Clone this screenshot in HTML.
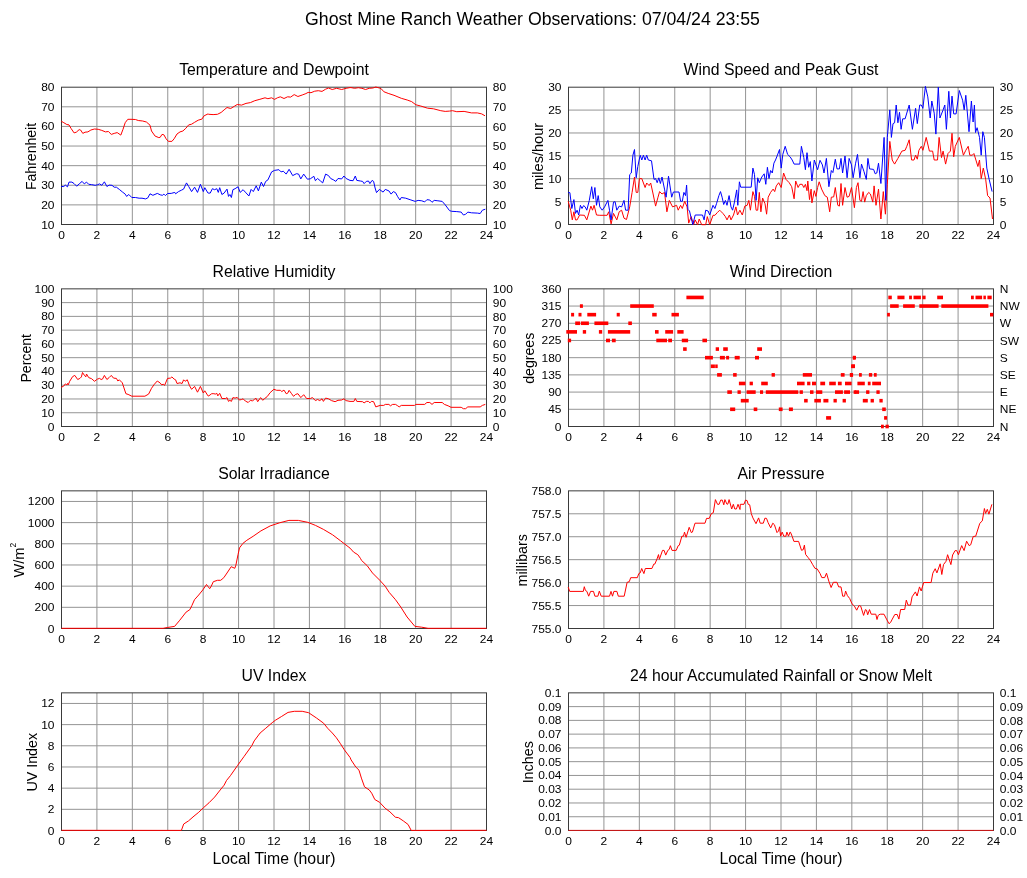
<!DOCTYPE html>
<html><head><meta charset="utf-8"><style>
html,body{margin:0;padding:0;background:#fff;width:1027px;height:878px;overflow:hidden}
svg{display:block;will-change:transform}
text{font-family:"Liberation Sans",sans-serif;fill:#000}
</style></head><body>
<svg width="1027" height="878" viewBox="0 0 1027 878">
<rect width="1027" height="878" fill="#fff"/>
<text x="532.50" y="25.00" font-size="17.7" text-anchor="middle">Ghost Mine Ranch Weather Observations: 07/04/24 23:55</text>
<line x1="96.92" y1="87.2" x2="96.92" y2="224.5" stroke="#949494"/>
<line x1="132.33" y1="87.2" x2="132.33" y2="224.5" stroke="#949494"/>
<line x1="167.75" y1="87.2" x2="167.75" y2="224.5" stroke="#949494"/>
<line x1="203.17" y1="87.2" x2="203.17" y2="224.5" stroke="#949494"/>
<line x1="238.58" y1="87.2" x2="238.58" y2="224.5" stroke="#949494"/>
<line x1="274.00" y1="87.2" x2="274.00" y2="224.5" stroke="#949494"/>
<line x1="309.42" y1="87.2" x2="309.42" y2="224.5" stroke="#949494"/>
<line x1="344.83" y1="87.2" x2="344.83" y2="224.5" stroke="#949494"/>
<line x1="380.25" y1="87.2" x2="380.25" y2="224.5" stroke="#949494"/>
<line x1="415.67" y1="87.2" x2="415.67" y2="224.5" stroke="#949494"/>
<line x1="451.08" y1="87.2" x2="451.08" y2="224.5" stroke="#949494"/>
<line x1="61.5" y1="204.89" x2="486.5" y2="204.89" stroke="#949494"/>
<line x1="61.5" y1="185.27" x2="486.5" y2="185.27" stroke="#949494"/>
<line x1="61.5" y1="165.66" x2="486.5" y2="165.66" stroke="#949494"/>
<line x1="61.5" y1="146.04" x2="486.5" y2="146.04" stroke="#949494"/>
<line x1="61.5" y1="126.43" x2="486.5" y2="126.43" stroke="#949494"/>
<line x1="61.5" y1="106.81" x2="486.5" y2="106.81" stroke="#949494"/>
<rect x="61.5" y="87.2" width="425" height="137.30" fill="none" stroke="#3a3a3a"/>
<text transform="translate(54.50,228.50) scale(1.09,1)" font-size="11.0" text-anchor="end">10</text>
<text transform="translate(54.50,208.89) scale(1.09,1)" font-size="11.0" text-anchor="end">20</text>
<text transform="translate(54.50,189.27) scale(1.09,1)" font-size="11.0" text-anchor="end">30</text>
<text transform="translate(54.50,169.66) scale(1.09,1)" font-size="11.0" text-anchor="end">40</text>
<text transform="translate(54.50,150.04) scale(1.09,1)" font-size="11.0" text-anchor="end">50</text>
<text transform="translate(54.50,130.43) scale(1.09,1)" font-size="11.0" text-anchor="end">60</text>
<text transform="translate(54.50,110.81) scale(1.09,1)" font-size="11.0" text-anchor="end">70</text>
<text transform="translate(54.50,91.20) scale(1.09,1)" font-size="11.0" text-anchor="end">80</text>
<text transform="translate(492.80,228.70) scale(1.09,1)" font-size="11.0" text-anchor="start">10</text>
<text transform="translate(492.80,209.09) scale(1.09,1)" font-size="11.0" text-anchor="start">20</text>
<text transform="translate(492.80,189.47) scale(1.09,1)" font-size="11.0" text-anchor="start">30</text>
<text transform="translate(492.80,169.86) scale(1.09,1)" font-size="11.0" text-anchor="start">40</text>
<text transform="translate(492.80,150.24) scale(1.09,1)" font-size="11.0" text-anchor="start">50</text>
<text transform="translate(492.80,130.63) scale(1.09,1)" font-size="11.0" text-anchor="start">60</text>
<text transform="translate(492.80,111.01) scale(1.09,1)" font-size="11.0" text-anchor="start">70</text>
<text transform="translate(492.80,91.40) scale(1.09,1)" font-size="11.0" text-anchor="start">80</text>
<text transform="translate(61.50,239.10) scale(1.09,1)" font-size="11.0" text-anchor="middle">0</text>
<text transform="translate(96.92,239.10) scale(1.09,1)" font-size="11.0" text-anchor="middle">2</text>
<text transform="translate(132.33,239.10) scale(1.09,1)" font-size="11.0" text-anchor="middle">4</text>
<text transform="translate(167.75,239.10) scale(1.09,1)" font-size="11.0" text-anchor="middle">6</text>
<text transform="translate(203.17,239.10) scale(1.09,1)" font-size="11.0" text-anchor="middle">8</text>
<text transform="translate(238.58,239.10) scale(1.09,1)" font-size="11.0" text-anchor="middle">10</text>
<text transform="translate(274.00,239.10) scale(1.09,1)" font-size="11.0" text-anchor="middle">12</text>
<text transform="translate(309.42,239.10) scale(1.09,1)" font-size="11.0" text-anchor="middle">14</text>
<text transform="translate(344.83,239.10) scale(1.09,1)" font-size="11.0" text-anchor="middle">16</text>
<text transform="translate(380.25,239.10) scale(1.09,1)" font-size="11.0" text-anchor="middle">18</text>
<text transform="translate(415.67,239.10) scale(1.09,1)" font-size="11.0" text-anchor="middle">20</text>
<text transform="translate(451.08,239.10) scale(1.09,1)" font-size="11.0" text-anchor="middle">22</text>
<text transform="translate(486.50,239.10) scale(1.09,1)" font-size="11.0" text-anchor="middle">24</text>
<text transform="translate(274.00,75.20) scale(1.0,1)" font-size="15.8" text-anchor="middle">Temperature and Dewpoint</text>
<text transform="translate(36.30,156.45) rotate(-90)" font-size="14.8" text-anchor="middle" textLength="67.2" lengthAdjust="spacingAndGlyphs">Fahrenheit</text>
<line x1="603.92" y1="87.2" x2="603.92" y2="224.5" stroke="#949494"/>
<line x1="639.33" y1="87.2" x2="639.33" y2="224.5" stroke="#949494"/>
<line x1="674.75" y1="87.2" x2="674.75" y2="224.5" stroke="#949494"/>
<line x1="710.17" y1="87.2" x2="710.17" y2="224.5" stroke="#949494"/>
<line x1="745.58" y1="87.2" x2="745.58" y2="224.5" stroke="#949494"/>
<line x1="781.00" y1="87.2" x2="781.00" y2="224.5" stroke="#949494"/>
<line x1="816.42" y1="87.2" x2="816.42" y2="224.5" stroke="#949494"/>
<line x1="851.83" y1="87.2" x2="851.83" y2="224.5" stroke="#949494"/>
<line x1="887.25" y1="87.2" x2="887.25" y2="224.5" stroke="#949494"/>
<line x1="922.67" y1="87.2" x2="922.67" y2="224.5" stroke="#949494"/>
<line x1="958.08" y1="87.2" x2="958.08" y2="224.5" stroke="#949494"/>
<line x1="568.5" y1="201.62" x2="993.5" y2="201.62" stroke="#949494"/>
<line x1="568.5" y1="178.73" x2="993.5" y2="178.73" stroke="#949494"/>
<line x1="568.5" y1="155.85" x2="993.5" y2="155.85" stroke="#949494"/>
<line x1="568.5" y1="132.97" x2="993.5" y2="132.97" stroke="#949494"/>
<line x1="568.5" y1="110.08" x2="993.5" y2="110.08" stroke="#949494"/>
<rect x="568.5" y="87.2" width="425" height="137.30" fill="none" stroke="#3a3a3a"/>
<text transform="translate(561.50,228.50) scale(1.09,1)" font-size="11.0" text-anchor="end">0</text>
<text transform="translate(561.50,205.62) scale(1.09,1)" font-size="11.0" text-anchor="end">5</text>
<text transform="translate(561.50,182.73) scale(1.09,1)" font-size="11.0" text-anchor="end">10</text>
<text transform="translate(561.50,159.85) scale(1.09,1)" font-size="11.0" text-anchor="end">15</text>
<text transform="translate(561.50,136.97) scale(1.09,1)" font-size="11.0" text-anchor="end">20</text>
<text transform="translate(561.50,114.08) scale(1.09,1)" font-size="11.0" text-anchor="end">25</text>
<text transform="translate(561.50,91.20) scale(1.09,1)" font-size="11.0" text-anchor="end">30</text>
<text transform="translate(999.80,228.70) scale(1.09,1)" font-size="11.0" text-anchor="start">0</text>
<text transform="translate(999.80,205.82) scale(1.09,1)" font-size="11.0" text-anchor="start">5</text>
<text transform="translate(999.80,182.93) scale(1.09,1)" font-size="11.0" text-anchor="start">10</text>
<text transform="translate(999.80,160.05) scale(1.09,1)" font-size="11.0" text-anchor="start">15</text>
<text transform="translate(999.80,137.17) scale(1.09,1)" font-size="11.0" text-anchor="start">20</text>
<text transform="translate(999.80,114.28) scale(1.09,1)" font-size="11.0" text-anchor="start">25</text>
<text transform="translate(999.80,91.40) scale(1.09,1)" font-size="11.0" text-anchor="start">30</text>
<text transform="translate(568.50,239.10) scale(1.09,1)" font-size="11.0" text-anchor="middle">0</text>
<text transform="translate(603.92,239.10) scale(1.09,1)" font-size="11.0" text-anchor="middle">2</text>
<text transform="translate(639.33,239.10) scale(1.09,1)" font-size="11.0" text-anchor="middle">4</text>
<text transform="translate(674.75,239.10) scale(1.09,1)" font-size="11.0" text-anchor="middle">6</text>
<text transform="translate(710.17,239.10) scale(1.09,1)" font-size="11.0" text-anchor="middle">8</text>
<text transform="translate(745.58,239.10) scale(1.09,1)" font-size="11.0" text-anchor="middle">10</text>
<text transform="translate(781.00,239.10) scale(1.09,1)" font-size="11.0" text-anchor="middle">12</text>
<text transform="translate(816.42,239.10) scale(1.09,1)" font-size="11.0" text-anchor="middle">14</text>
<text transform="translate(851.83,239.10) scale(1.09,1)" font-size="11.0" text-anchor="middle">16</text>
<text transform="translate(887.25,239.10) scale(1.09,1)" font-size="11.0" text-anchor="middle">18</text>
<text transform="translate(922.67,239.10) scale(1.09,1)" font-size="11.0" text-anchor="middle">20</text>
<text transform="translate(958.08,239.10) scale(1.09,1)" font-size="11.0" text-anchor="middle">22</text>
<text transform="translate(993.50,239.10) scale(1.09,1)" font-size="11.0" text-anchor="middle">24</text>
<text transform="translate(781.00,75.20) scale(1.0,1)" font-size="15.8" text-anchor="middle">Wind Speed and Peak Gust</text>
<text transform="translate(543.00,156.45) rotate(-90)" font-size="14.8" text-anchor="middle" textLength="67.2" lengthAdjust="spacingAndGlyphs">miles/hour</text>
<line x1="96.92" y1="288.85" x2="96.92" y2="426.5" stroke="#949494"/>
<line x1="132.33" y1="288.85" x2="132.33" y2="426.5" stroke="#949494"/>
<line x1="167.75" y1="288.85" x2="167.75" y2="426.5" stroke="#949494"/>
<line x1="203.17" y1="288.85" x2="203.17" y2="426.5" stroke="#949494"/>
<line x1="238.58" y1="288.85" x2="238.58" y2="426.5" stroke="#949494"/>
<line x1="274.00" y1="288.85" x2="274.00" y2="426.5" stroke="#949494"/>
<line x1="309.42" y1="288.85" x2="309.42" y2="426.5" stroke="#949494"/>
<line x1="344.83" y1="288.85" x2="344.83" y2="426.5" stroke="#949494"/>
<line x1="380.25" y1="288.85" x2="380.25" y2="426.5" stroke="#949494"/>
<line x1="415.67" y1="288.85" x2="415.67" y2="426.5" stroke="#949494"/>
<line x1="451.08" y1="288.85" x2="451.08" y2="426.5" stroke="#949494"/>
<line x1="61.5" y1="412.74" x2="486.5" y2="412.74" stroke="#949494"/>
<line x1="61.5" y1="398.97" x2="486.5" y2="398.97" stroke="#949494"/>
<line x1="61.5" y1="385.20" x2="486.5" y2="385.20" stroke="#949494"/>
<line x1="61.5" y1="371.44" x2="486.5" y2="371.44" stroke="#949494"/>
<line x1="61.5" y1="357.68" x2="486.5" y2="357.68" stroke="#949494"/>
<line x1="61.5" y1="343.91" x2="486.5" y2="343.91" stroke="#949494"/>
<line x1="61.5" y1="330.15" x2="486.5" y2="330.15" stroke="#949494"/>
<line x1="61.5" y1="316.38" x2="486.5" y2="316.38" stroke="#949494"/>
<line x1="61.5" y1="302.62" x2="486.5" y2="302.62" stroke="#949494"/>
<rect x="61.5" y="288.85" width="425" height="137.65" fill="none" stroke="#3a3a3a"/>
<text transform="translate(54.50,430.50) scale(1.09,1)" font-size="11.0" text-anchor="end">0</text>
<text transform="translate(54.50,416.74) scale(1.09,1)" font-size="11.0" text-anchor="end">10</text>
<text transform="translate(54.50,402.97) scale(1.09,1)" font-size="11.0" text-anchor="end">20</text>
<text transform="translate(54.50,389.20) scale(1.09,1)" font-size="11.0" text-anchor="end">30</text>
<text transform="translate(54.50,375.44) scale(1.09,1)" font-size="11.0" text-anchor="end">40</text>
<text transform="translate(54.50,361.68) scale(1.09,1)" font-size="11.0" text-anchor="end">50</text>
<text transform="translate(54.50,347.91) scale(1.09,1)" font-size="11.0" text-anchor="end">60</text>
<text transform="translate(54.50,334.15) scale(1.09,1)" font-size="11.0" text-anchor="end">70</text>
<text transform="translate(54.50,320.38) scale(1.09,1)" font-size="11.0" text-anchor="end">80</text>
<text transform="translate(54.50,306.62) scale(1.09,1)" font-size="11.0" text-anchor="end">90</text>
<text transform="translate(54.50,292.85) scale(1.09,1)" font-size="11.0" text-anchor="end">100</text>
<text transform="translate(492.80,430.70) scale(1.09,1)" font-size="11.0" text-anchor="start">0</text>
<text transform="translate(492.80,416.94) scale(1.09,1)" font-size="11.0" text-anchor="start">10</text>
<text transform="translate(492.80,403.17) scale(1.09,1)" font-size="11.0" text-anchor="start">20</text>
<text transform="translate(492.80,389.40) scale(1.09,1)" font-size="11.0" text-anchor="start">30</text>
<text transform="translate(492.80,375.64) scale(1.09,1)" font-size="11.0" text-anchor="start">40</text>
<text transform="translate(492.80,361.88) scale(1.09,1)" font-size="11.0" text-anchor="start">50</text>
<text transform="translate(492.80,348.11) scale(1.09,1)" font-size="11.0" text-anchor="start">60</text>
<text transform="translate(492.80,334.35) scale(1.09,1)" font-size="11.0" text-anchor="start">70</text>
<text transform="translate(492.80,320.58) scale(1.09,1)" font-size="11.0" text-anchor="start">80</text>
<text transform="translate(492.80,306.81) scale(1.09,1)" font-size="11.0" text-anchor="start">90</text>
<text transform="translate(492.80,293.05) scale(1.09,1)" font-size="11.0" text-anchor="start">100</text>
<text transform="translate(61.50,441.10) scale(1.09,1)" font-size="11.0" text-anchor="middle">0</text>
<text transform="translate(96.92,441.10) scale(1.09,1)" font-size="11.0" text-anchor="middle">2</text>
<text transform="translate(132.33,441.10) scale(1.09,1)" font-size="11.0" text-anchor="middle">4</text>
<text transform="translate(167.75,441.10) scale(1.09,1)" font-size="11.0" text-anchor="middle">6</text>
<text transform="translate(203.17,441.10) scale(1.09,1)" font-size="11.0" text-anchor="middle">8</text>
<text transform="translate(238.58,441.10) scale(1.09,1)" font-size="11.0" text-anchor="middle">10</text>
<text transform="translate(274.00,441.10) scale(1.09,1)" font-size="11.0" text-anchor="middle">12</text>
<text transform="translate(309.42,441.10) scale(1.09,1)" font-size="11.0" text-anchor="middle">14</text>
<text transform="translate(344.83,441.10) scale(1.09,1)" font-size="11.0" text-anchor="middle">16</text>
<text transform="translate(380.25,441.10) scale(1.09,1)" font-size="11.0" text-anchor="middle">18</text>
<text transform="translate(415.67,441.10) scale(1.09,1)" font-size="11.0" text-anchor="middle">20</text>
<text transform="translate(451.08,441.10) scale(1.09,1)" font-size="11.0" text-anchor="middle">22</text>
<text transform="translate(486.50,441.10) scale(1.09,1)" font-size="11.0" text-anchor="middle">24</text>
<text transform="translate(274.00,276.85) scale(1.0,1)" font-size="15.8" text-anchor="middle">Relative Humidity</text>
<text transform="translate(31.10,358.28) rotate(-90)" font-size="14.8" text-anchor="middle" textLength="48.6" lengthAdjust="spacingAndGlyphs">Percent</text>
<line x1="603.92" y1="288.85" x2="603.92" y2="426.5" stroke="#949494"/>
<line x1="639.33" y1="288.85" x2="639.33" y2="426.5" stroke="#949494"/>
<line x1="674.75" y1="288.85" x2="674.75" y2="426.5" stroke="#949494"/>
<line x1="710.17" y1="288.85" x2="710.17" y2="426.5" stroke="#949494"/>
<line x1="745.58" y1="288.85" x2="745.58" y2="426.5" stroke="#949494"/>
<line x1="781.00" y1="288.85" x2="781.00" y2="426.5" stroke="#949494"/>
<line x1="816.42" y1="288.85" x2="816.42" y2="426.5" stroke="#949494"/>
<line x1="851.83" y1="288.85" x2="851.83" y2="426.5" stroke="#949494"/>
<line x1="887.25" y1="288.85" x2="887.25" y2="426.5" stroke="#949494"/>
<line x1="922.67" y1="288.85" x2="922.67" y2="426.5" stroke="#949494"/>
<line x1="958.08" y1="288.85" x2="958.08" y2="426.5" stroke="#949494"/>
<line x1="568.5" y1="409.29" x2="993.5" y2="409.29" stroke="#949494"/>
<line x1="568.5" y1="392.09" x2="993.5" y2="392.09" stroke="#949494"/>
<line x1="568.5" y1="374.88" x2="993.5" y2="374.88" stroke="#949494"/>
<line x1="568.5" y1="357.68" x2="993.5" y2="357.68" stroke="#949494"/>
<line x1="568.5" y1="340.47" x2="993.5" y2="340.47" stroke="#949494"/>
<line x1="568.5" y1="323.26" x2="993.5" y2="323.26" stroke="#949494"/>
<line x1="568.5" y1="306.06" x2="993.5" y2="306.06" stroke="#949494"/>
<rect x="568.5" y="288.85" width="425" height="137.65" fill="none" stroke="#3a3a3a"/>
<text transform="translate(561.50,430.50) scale(1.09,1)" font-size="11.0" text-anchor="end">0</text>
<text transform="translate(561.50,413.29) scale(1.09,1)" font-size="11.0" text-anchor="end">45</text>
<text transform="translate(561.50,396.09) scale(1.09,1)" font-size="11.0" text-anchor="end">90</text>
<text transform="translate(561.50,378.88) scale(1.09,1)" font-size="11.0" text-anchor="end">135</text>
<text transform="translate(561.50,361.68) scale(1.09,1)" font-size="11.0" text-anchor="end">180</text>
<text transform="translate(561.50,344.47) scale(1.09,1)" font-size="11.0" text-anchor="end">225</text>
<text transform="translate(561.50,327.26) scale(1.09,1)" font-size="11.0" text-anchor="end">270</text>
<text transform="translate(561.50,310.06) scale(1.09,1)" font-size="11.0" text-anchor="end">315</text>
<text transform="translate(561.50,292.85) scale(1.09,1)" font-size="11.0" text-anchor="end">360</text>
<text transform="translate(999.80,430.70) scale(1.09,1)" font-size="11.0" text-anchor="start">N</text>
<text transform="translate(999.80,413.49) scale(1.09,1)" font-size="11.0" text-anchor="start">NE</text>
<text transform="translate(999.80,396.29) scale(1.09,1)" font-size="11.0" text-anchor="start">E</text>
<text transform="translate(999.80,379.08) scale(1.09,1)" font-size="11.0" text-anchor="start">SE</text>
<text transform="translate(999.80,361.88) scale(1.09,1)" font-size="11.0" text-anchor="start">S</text>
<text transform="translate(999.80,344.67) scale(1.09,1)" font-size="11.0" text-anchor="start">SW</text>
<text transform="translate(999.80,327.46) scale(1.09,1)" font-size="11.0" text-anchor="start">W</text>
<text transform="translate(999.80,310.26) scale(1.09,1)" font-size="11.0" text-anchor="start">NW</text>
<text transform="translate(999.80,293.05) scale(1.09,1)" font-size="11.0" text-anchor="start">N</text>
<text transform="translate(568.50,441.10) scale(1.09,1)" font-size="11.0" text-anchor="middle">0</text>
<text transform="translate(603.92,441.10) scale(1.09,1)" font-size="11.0" text-anchor="middle">2</text>
<text transform="translate(639.33,441.10) scale(1.09,1)" font-size="11.0" text-anchor="middle">4</text>
<text transform="translate(674.75,441.10) scale(1.09,1)" font-size="11.0" text-anchor="middle">6</text>
<text transform="translate(710.17,441.10) scale(1.09,1)" font-size="11.0" text-anchor="middle">8</text>
<text transform="translate(745.58,441.10) scale(1.09,1)" font-size="11.0" text-anchor="middle">10</text>
<text transform="translate(781.00,441.10) scale(1.09,1)" font-size="11.0" text-anchor="middle">12</text>
<text transform="translate(816.42,441.10) scale(1.09,1)" font-size="11.0" text-anchor="middle">14</text>
<text transform="translate(851.83,441.10) scale(1.09,1)" font-size="11.0" text-anchor="middle">16</text>
<text transform="translate(887.25,441.10) scale(1.09,1)" font-size="11.0" text-anchor="middle">18</text>
<text transform="translate(922.67,441.10) scale(1.09,1)" font-size="11.0" text-anchor="middle">20</text>
<text transform="translate(958.08,441.10) scale(1.09,1)" font-size="11.0" text-anchor="middle">22</text>
<text transform="translate(993.50,441.10) scale(1.09,1)" font-size="11.0" text-anchor="middle">24</text>
<text transform="translate(781.00,276.85) scale(1.0,1)" font-size="15.8" text-anchor="middle">Wind Direction</text>
<text transform="translate(534.00,358.28) rotate(-90)" font-size="14.8" text-anchor="middle" textLength="51.2" lengthAdjust="spacingAndGlyphs">degrees</text>
<line x1="96.92" y1="490.85" x2="96.92" y2="628.5" stroke="#949494"/>
<line x1="132.33" y1="490.85" x2="132.33" y2="628.5" stroke="#949494"/>
<line x1="167.75" y1="490.85" x2="167.75" y2="628.5" stroke="#949494"/>
<line x1="203.17" y1="490.85" x2="203.17" y2="628.5" stroke="#949494"/>
<line x1="238.58" y1="490.85" x2="238.58" y2="628.5" stroke="#949494"/>
<line x1="274.00" y1="490.85" x2="274.00" y2="628.5" stroke="#949494"/>
<line x1="309.42" y1="490.85" x2="309.42" y2="628.5" stroke="#949494"/>
<line x1="344.83" y1="490.85" x2="344.83" y2="628.5" stroke="#949494"/>
<line x1="380.25" y1="490.85" x2="380.25" y2="628.5" stroke="#949494"/>
<line x1="415.67" y1="490.85" x2="415.67" y2="628.5" stroke="#949494"/>
<line x1="451.08" y1="490.85" x2="451.08" y2="628.5" stroke="#949494"/>
<line x1="61.5" y1="607.32" x2="486.5" y2="607.32" stroke="#949494"/>
<line x1="61.5" y1="586.15" x2="486.5" y2="586.15" stroke="#949494"/>
<line x1="61.5" y1="564.97" x2="486.5" y2="564.97" stroke="#949494"/>
<line x1="61.5" y1="543.79" x2="486.5" y2="543.79" stroke="#949494"/>
<line x1="61.5" y1="522.62" x2="486.5" y2="522.62" stroke="#949494"/>
<line x1="61.5" y1="501.44" x2="486.5" y2="501.44" stroke="#949494"/>
<rect x="61.5" y="490.85" width="425" height="137.65" fill="none" stroke="#3a3a3a"/>
<text transform="translate(54.50,632.50) scale(1.09,1)" font-size="11.0" text-anchor="end">0</text>
<text transform="translate(54.50,611.32) scale(1.09,1)" font-size="11.0" text-anchor="end">200</text>
<text transform="translate(54.50,590.15) scale(1.09,1)" font-size="11.0" text-anchor="end">400</text>
<text transform="translate(54.50,568.97) scale(1.09,1)" font-size="11.0" text-anchor="end">600</text>
<text transform="translate(54.50,547.79) scale(1.09,1)" font-size="11.0" text-anchor="end">800</text>
<text transform="translate(54.50,526.62) scale(1.09,1)" font-size="11.0" text-anchor="end">1000</text>
<text transform="translate(54.50,505.44) scale(1.09,1)" font-size="11.0" text-anchor="end">1200</text>
<text transform="translate(61.50,643.10) scale(1.09,1)" font-size="11.0" text-anchor="middle">0</text>
<text transform="translate(96.92,643.10) scale(1.09,1)" font-size="11.0" text-anchor="middle">2</text>
<text transform="translate(132.33,643.10) scale(1.09,1)" font-size="11.0" text-anchor="middle">4</text>
<text transform="translate(167.75,643.10) scale(1.09,1)" font-size="11.0" text-anchor="middle">6</text>
<text transform="translate(203.17,643.10) scale(1.09,1)" font-size="11.0" text-anchor="middle">8</text>
<text transform="translate(238.58,643.10) scale(1.09,1)" font-size="11.0" text-anchor="middle">10</text>
<text transform="translate(274.00,643.10) scale(1.09,1)" font-size="11.0" text-anchor="middle">12</text>
<text transform="translate(309.42,643.10) scale(1.09,1)" font-size="11.0" text-anchor="middle">14</text>
<text transform="translate(344.83,643.10) scale(1.09,1)" font-size="11.0" text-anchor="middle">16</text>
<text transform="translate(380.25,643.10) scale(1.09,1)" font-size="11.0" text-anchor="middle">18</text>
<text transform="translate(415.67,643.10) scale(1.09,1)" font-size="11.0" text-anchor="middle">20</text>
<text transform="translate(451.08,643.10) scale(1.09,1)" font-size="11.0" text-anchor="middle">22</text>
<text transform="translate(486.50,643.10) scale(1.09,1)" font-size="11.0" text-anchor="middle">24</text>
<text transform="translate(274.00,478.85) scale(1.0,1)" font-size="15.8" text-anchor="middle">Solar Irradiance</text>
<text transform="translate(24.00,560.27) rotate(-90)" font-size="14.8" text-anchor="middle" textLength="34.7" lengthAdjust="spacingAndGlyphs">W/m<tspan font-size="8.5" dy="-8.3">2</tspan></text>
<line x1="603.92" y1="490.85" x2="603.92" y2="628.5" stroke="#949494"/>
<line x1="639.33" y1="490.85" x2="639.33" y2="628.5" stroke="#949494"/>
<line x1="674.75" y1="490.85" x2="674.75" y2="628.5" stroke="#949494"/>
<line x1="710.17" y1="490.85" x2="710.17" y2="628.5" stroke="#949494"/>
<line x1="745.58" y1="490.85" x2="745.58" y2="628.5" stroke="#949494"/>
<line x1="781.00" y1="490.85" x2="781.00" y2="628.5" stroke="#949494"/>
<line x1="816.42" y1="490.85" x2="816.42" y2="628.5" stroke="#949494"/>
<line x1="851.83" y1="490.85" x2="851.83" y2="628.5" stroke="#949494"/>
<line x1="887.25" y1="490.85" x2="887.25" y2="628.5" stroke="#949494"/>
<line x1="922.67" y1="490.85" x2="922.67" y2="628.5" stroke="#949494"/>
<line x1="958.08" y1="490.85" x2="958.08" y2="628.5" stroke="#949494"/>
<line x1="568.5" y1="605.56" x2="993.5" y2="605.56" stroke="#949494"/>
<line x1="568.5" y1="582.62" x2="993.5" y2="582.62" stroke="#949494"/>
<line x1="568.5" y1="559.67" x2="993.5" y2="559.67" stroke="#949494"/>
<line x1="568.5" y1="536.73" x2="993.5" y2="536.73" stroke="#949494"/>
<line x1="568.5" y1="513.79" x2="993.5" y2="513.79" stroke="#949494"/>
<rect x="568.5" y="490.85" width="425" height="137.65" fill="none" stroke="#3a3a3a"/>
<text transform="translate(561.50,632.50) scale(1.09,1)" font-size="11.0" text-anchor="end">755.0</text>
<text transform="translate(561.50,609.56) scale(1.09,1)" font-size="11.0" text-anchor="end">755.5</text>
<text transform="translate(561.50,586.62) scale(1.09,1)" font-size="11.0" text-anchor="end">756.0</text>
<text transform="translate(561.50,563.67) scale(1.09,1)" font-size="11.0" text-anchor="end">756.5</text>
<text transform="translate(561.50,540.73) scale(1.09,1)" font-size="11.0" text-anchor="end">757.0</text>
<text transform="translate(561.50,517.79) scale(1.09,1)" font-size="11.0" text-anchor="end">757.5</text>
<text transform="translate(561.50,494.85) scale(1.09,1)" font-size="11.0" text-anchor="end">758.0</text>
<text transform="translate(568.50,643.10) scale(1.09,1)" font-size="11.0" text-anchor="middle">0</text>
<text transform="translate(603.92,643.10) scale(1.09,1)" font-size="11.0" text-anchor="middle">2</text>
<text transform="translate(639.33,643.10) scale(1.09,1)" font-size="11.0" text-anchor="middle">4</text>
<text transform="translate(674.75,643.10) scale(1.09,1)" font-size="11.0" text-anchor="middle">6</text>
<text transform="translate(710.17,643.10) scale(1.09,1)" font-size="11.0" text-anchor="middle">8</text>
<text transform="translate(745.58,643.10) scale(1.09,1)" font-size="11.0" text-anchor="middle">10</text>
<text transform="translate(781.00,643.10) scale(1.09,1)" font-size="11.0" text-anchor="middle">12</text>
<text transform="translate(816.42,643.10) scale(1.09,1)" font-size="11.0" text-anchor="middle">14</text>
<text transform="translate(851.83,643.10) scale(1.09,1)" font-size="11.0" text-anchor="middle">16</text>
<text transform="translate(887.25,643.10) scale(1.09,1)" font-size="11.0" text-anchor="middle">18</text>
<text transform="translate(922.67,643.10) scale(1.09,1)" font-size="11.0" text-anchor="middle">20</text>
<text transform="translate(958.08,643.10) scale(1.09,1)" font-size="11.0" text-anchor="middle">22</text>
<text transform="translate(993.50,643.10) scale(1.09,1)" font-size="11.0" text-anchor="middle">24</text>
<text transform="translate(781.00,478.85) scale(1.0,1)" font-size="15.8" text-anchor="middle">Air Pressure</text>
<text transform="translate(527.40,560.27) rotate(-90)" font-size="14.8" text-anchor="middle" textLength="52.4" lengthAdjust="spacingAndGlyphs">millibars</text>
<line x1="96.92" y1="692.85" x2="96.92" y2="830.5" stroke="#949494"/>
<line x1="132.33" y1="692.85" x2="132.33" y2="830.5" stroke="#949494"/>
<line x1="167.75" y1="692.85" x2="167.75" y2="830.5" stroke="#949494"/>
<line x1="203.17" y1="692.85" x2="203.17" y2="830.5" stroke="#949494"/>
<line x1="238.58" y1="692.85" x2="238.58" y2="830.5" stroke="#949494"/>
<line x1="274.00" y1="692.85" x2="274.00" y2="830.5" stroke="#949494"/>
<line x1="309.42" y1="692.85" x2="309.42" y2="830.5" stroke="#949494"/>
<line x1="344.83" y1="692.85" x2="344.83" y2="830.5" stroke="#949494"/>
<line x1="380.25" y1="692.85" x2="380.25" y2="830.5" stroke="#949494"/>
<line x1="415.67" y1="692.85" x2="415.67" y2="830.5" stroke="#949494"/>
<line x1="451.08" y1="692.85" x2="451.08" y2="830.5" stroke="#949494"/>
<line x1="61.5" y1="809.32" x2="486.5" y2="809.32" stroke="#949494"/>
<line x1="61.5" y1="788.15" x2="486.5" y2="788.15" stroke="#949494"/>
<line x1="61.5" y1="766.97" x2="486.5" y2="766.97" stroke="#949494"/>
<line x1="61.5" y1="745.79" x2="486.5" y2="745.79" stroke="#949494"/>
<line x1="61.5" y1="724.62" x2="486.5" y2="724.62" stroke="#949494"/>
<line x1="61.5" y1="703.44" x2="486.5" y2="703.44" stroke="#949494"/>
<rect x="61.5" y="692.85" width="425" height="137.65" fill="none" stroke="#3a3a3a"/>
<text transform="translate(54.50,834.50) scale(1.09,1)" font-size="11.0" text-anchor="end">0</text>
<text transform="translate(54.50,813.32) scale(1.09,1)" font-size="11.0" text-anchor="end">2</text>
<text transform="translate(54.50,792.15) scale(1.09,1)" font-size="11.0" text-anchor="end">4</text>
<text transform="translate(54.50,770.97) scale(1.09,1)" font-size="11.0" text-anchor="end">6</text>
<text transform="translate(54.50,749.79) scale(1.09,1)" font-size="11.0" text-anchor="end">8</text>
<text transform="translate(54.50,728.62) scale(1.09,1)" font-size="11.0" text-anchor="end">10</text>
<text transform="translate(54.50,707.44) scale(1.09,1)" font-size="11.0" text-anchor="end">12</text>
<text transform="translate(61.50,845.10) scale(1.09,1)" font-size="11.0" text-anchor="middle">0</text>
<text transform="translate(96.92,845.10) scale(1.09,1)" font-size="11.0" text-anchor="middle">2</text>
<text transform="translate(132.33,845.10) scale(1.09,1)" font-size="11.0" text-anchor="middle">4</text>
<text transform="translate(167.75,845.10) scale(1.09,1)" font-size="11.0" text-anchor="middle">6</text>
<text transform="translate(203.17,845.10) scale(1.09,1)" font-size="11.0" text-anchor="middle">8</text>
<text transform="translate(238.58,845.10) scale(1.09,1)" font-size="11.0" text-anchor="middle">10</text>
<text transform="translate(274.00,845.10) scale(1.09,1)" font-size="11.0" text-anchor="middle">12</text>
<text transform="translate(309.42,845.10) scale(1.09,1)" font-size="11.0" text-anchor="middle">14</text>
<text transform="translate(344.83,845.10) scale(1.09,1)" font-size="11.0" text-anchor="middle">16</text>
<text transform="translate(380.25,845.10) scale(1.09,1)" font-size="11.0" text-anchor="middle">18</text>
<text transform="translate(415.67,845.10) scale(1.09,1)" font-size="11.0" text-anchor="middle">20</text>
<text transform="translate(451.08,845.10) scale(1.09,1)" font-size="11.0" text-anchor="middle">22</text>
<text transform="translate(486.50,845.10) scale(1.09,1)" font-size="11.0" text-anchor="middle">24</text>
<text transform="translate(274.00,680.85) scale(1.0,1)" font-size="15.8" text-anchor="middle">UV Index</text>
<text transform="translate(37.20,762.27) rotate(-90)" font-size="14.8" text-anchor="middle" textLength="58.7" lengthAdjust="spacingAndGlyphs">UV Index</text>
<text transform="translate(274.00,864.00) scale(1.0,1)" font-size="15.8" text-anchor="middle">Local Time (hour)</text>
<line x1="603.92" y1="692.85" x2="603.92" y2="830.5" stroke="#949494"/>
<line x1="639.33" y1="692.85" x2="639.33" y2="830.5" stroke="#949494"/>
<line x1="674.75" y1="692.85" x2="674.75" y2="830.5" stroke="#949494"/>
<line x1="710.17" y1="692.85" x2="710.17" y2="830.5" stroke="#949494"/>
<line x1="745.58" y1="692.85" x2="745.58" y2="830.5" stroke="#949494"/>
<line x1="781.00" y1="692.85" x2="781.00" y2="830.5" stroke="#949494"/>
<line x1="816.42" y1="692.85" x2="816.42" y2="830.5" stroke="#949494"/>
<line x1="851.83" y1="692.85" x2="851.83" y2="830.5" stroke="#949494"/>
<line x1="887.25" y1="692.85" x2="887.25" y2="830.5" stroke="#949494"/>
<line x1="922.67" y1="692.85" x2="922.67" y2="830.5" stroke="#949494"/>
<line x1="958.08" y1="692.85" x2="958.08" y2="830.5" stroke="#949494"/>
<line x1="568.5" y1="816.74" x2="993.5" y2="816.74" stroke="#949494"/>
<line x1="568.5" y1="802.97" x2="993.5" y2="802.97" stroke="#949494"/>
<line x1="568.5" y1="789.21" x2="993.5" y2="789.21" stroke="#949494"/>
<line x1="568.5" y1="775.44" x2="993.5" y2="775.44" stroke="#949494"/>
<line x1="568.5" y1="761.67" x2="993.5" y2="761.67" stroke="#949494"/>
<line x1="568.5" y1="747.91" x2="993.5" y2="747.91" stroke="#949494"/>
<line x1="568.5" y1="734.14" x2="993.5" y2="734.14" stroke="#949494"/>
<line x1="568.5" y1="720.38" x2="993.5" y2="720.38" stroke="#949494"/>
<line x1="568.5" y1="706.62" x2="993.5" y2="706.62" stroke="#949494"/>
<rect x="568.5" y="692.85" width="425" height="137.65" fill="none" stroke="#3a3a3a"/>
<text transform="translate(561.50,834.50) scale(1.09,1)" font-size="11.0" text-anchor="end">0.0</text>
<text transform="translate(561.50,820.74) scale(1.09,1)" font-size="11.0" text-anchor="end">0.01</text>
<text transform="translate(561.50,806.97) scale(1.09,1)" font-size="11.0" text-anchor="end">0.02</text>
<text transform="translate(561.50,793.21) scale(1.09,1)" font-size="11.0" text-anchor="end">0.03</text>
<text transform="translate(561.50,779.44) scale(1.09,1)" font-size="11.0" text-anchor="end">0.04</text>
<text transform="translate(561.50,765.67) scale(1.09,1)" font-size="11.0" text-anchor="end">0.05</text>
<text transform="translate(561.50,751.91) scale(1.09,1)" font-size="11.0" text-anchor="end">0.06</text>
<text transform="translate(561.50,738.14) scale(1.09,1)" font-size="11.0" text-anchor="end">0.07</text>
<text transform="translate(561.50,724.38) scale(1.09,1)" font-size="11.0" text-anchor="end">0.08</text>
<text transform="translate(561.50,710.62) scale(1.09,1)" font-size="11.0" text-anchor="end">0.09</text>
<text transform="translate(561.50,696.85) scale(1.09,1)" font-size="11.0" text-anchor="end">0.1</text>
<text transform="translate(999.80,834.70) scale(1.09,1)" font-size="11.0" text-anchor="start">0.0</text>
<text transform="translate(999.80,820.94) scale(1.09,1)" font-size="11.0" text-anchor="start">0.01</text>
<text transform="translate(999.80,807.17) scale(1.09,1)" font-size="11.0" text-anchor="start">0.02</text>
<text transform="translate(999.80,793.41) scale(1.09,1)" font-size="11.0" text-anchor="start">0.03</text>
<text transform="translate(999.80,779.64) scale(1.09,1)" font-size="11.0" text-anchor="start">0.04</text>
<text transform="translate(999.80,765.88) scale(1.09,1)" font-size="11.0" text-anchor="start">0.05</text>
<text transform="translate(999.80,752.11) scale(1.09,1)" font-size="11.0" text-anchor="start">0.06</text>
<text transform="translate(999.80,738.35) scale(1.09,1)" font-size="11.0" text-anchor="start">0.07</text>
<text transform="translate(999.80,724.58) scale(1.09,1)" font-size="11.0" text-anchor="start">0.08</text>
<text transform="translate(999.80,710.82) scale(1.09,1)" font-size="11.0" text-anchor="start">0.09</text>
<text transform="translate(999.80,697.05) scale(1.09,1)" font-size="11.0" text-anchor="start">0.1</text>
<text transform="translate(568.50,845.10) scale(1.09,1)" font-size="11.0" text-anchor="middle">0</text>
<text transform="translate(603.92,845.10) scale(1.09,1)" font-size="11.0" text-anchor="middle">2</text>
<text transform="translate(639.33,845.10) scale(1.09,1)" font-size="11.0" text-anchor="middle">4</text>
<text transform="translate(674.75,845.10) scale(1.09,1)" font-size="11.0" text-anchor="middle">6</text>
<text transform="translate(710.17,845.10) scale(1.09,1)" font-size="11.0" text-anchor="middle">8</text>
<text transform="translate(745.58,845.10) scale(1.09,1)" font-size="11.0" text-anchor="middle">10</text>
<text transform="translate(781.00,845.10) scale(1.09,1)" font-size="11.0" text-anchor="middle">12</text>
<text transform="translate(816.42,845.10) scale(1.09,1)" font-size="11.0" text-anchor="middle">14</text>
<text transform="translate(851.83,845.10) scale(1.09,1)" font-size="11.0" text-anchor="middle">16</text>
<text transform="translate(887.25,845.10) scale(1.09,1)" font-size="11.0" text-anchor="middle">18</text>
<text transform="translate(922.67,845.10) scale(1.09,1)" font-size="11.0" text-anchor="middle">20</text>
<text transform="translate(958.08,845.10) scale(1.09,1)" font-size="11.0" text-anchor="middle">22</text>
<text transform="translate(993.50,845.10) scale(1.09,1)" font-size="11.0" text-anchor="middle">24</text>
<text transform="translate(781.00,680.85) scale(1.0,1)" font-size="15.8" text-anchor="middle">24 hour Accumulated Rainfall or Snow Melt</text>
<text transform="translate(533.30,762.27) rotate(-90)" font-size="14.8" text-anchor="middle" textLength="42.2" lengthAdjust="spacingAndGlyphs">Inches</text>
<text transform="translate(781.00,864.00) scale(1.0,1)" font-size="15.8" text-anchor="middle">Local Time (hour)</text>
<polyline points="61.2,121.2 63.8,122.7 66.8,124.5 69.0,124.9 71.1,128.5 74.1,132.9 76.3,132.2 79.2,129.6 80.6,130.0 82.8,133.4 85.0,132.2 87.9,131.9 90.9,130.0 94.5,129.0 98.2,129.3 101.8,130.4 105.5,131.9 108.4,131.5 111.3,134.4 114.2,133.4 117.2,132.6 120.8,135.1 123.0,129.3 125.2,122.7 127.8,119.3 131.0,119.3 135.4,119.5 138.3,120.5 142.7,121.0 146.4,122.0 150.0,125.2 151.5,131.0 155.1,136.1 158.8,137.6 160.2,137.3 162.0,134.4 163.9,134.8 166.1,138.8 168.3,141.3 171.9,141.4 174.1,138.8 177.0,134.0 180.0,131.9 182.9,131.0 185.8,128.3 188.7,124.9 191.6,124.2 194.6,122.3 198.2,120.2 201.9,119.1 204.1,115.8 208.0,113.9 208.8,114.3 213.1,114.6 217.5,114.3 221.2,112.4 224.1,109.9 227.0,107.5 230.7,108.5 234.3,106.3 237.2,104.5 241.6,105.1 246.0,103.4 250.4,102.6 254.8,100.7 259.9,99.3 265.0,97.8 267.9,98.7 271.6,97.8 274.5,99.4 277.4,97.8 280.3,96.8 284.0,98.5 287.6,96.8 290.6,97.1 294.2,94.6 297.9,96.5 302.2,95.0 305.9,93.6 308.1,92.4 311.0,92.7 314.7,91.2 318.3,90.7 322.0,91.4 325.6,89.2 328.5,88.0 332.2,89.5 336.6,88.3 341.7,89.5 346.1,88.3 350.0,87.6 351.0,87.6 354.6,88.3 358.3,87.7 361.9,88.3 365.6,89.5 369.2,88.3 372.9,88.0 375.8,87.0 379.4,88.0 381.6,89.1 383.8,91.7 388.2,93.4 394.0,95.3 401.3,98.3 407.2,100.0 411.6,101.6 415.9,104.8 420.3,105.9 427.6,108.2 433.5,108.8 440.8,110.7 445.2,111.4 449.5,111.1 452.5,110.7 456.8,111.7 464.1,111.4 471.5,112.9 477.3,112.9 481.7,113.9 485.0,115.8" fill="none" stroke="#ff0000" stroke-width="1.0" stroke-linejoin="round"/>
<polyline points="61.2,186.5 63.8,186.5 65.3,185.1 67.5,186.8 69.0,182.1 71.9,182.1 74.1,183.6 76.7,186.2 79.2,183.9 82.1,181.4 84.3,183.9 86.5,182.1 88.7,184.3 91.6,184.6 95.2,185.3 97.4,184.8 99.6,183.9 101.8,185.3 104.4,181.8 106.9,186.5 109.1,185.1 112.0,185.3 114.2,187.2 116.4,187.2 119.3,189.4 122.3,191.9 125.2,194.1 126.6,196.4 128.8,194.5 131.8,197.5 135.4,197.5 139.1,198.2 142.0,198.2 145.6,198.9 147.8,197.9 150.0,193.8 152.9,195.3 157.3,193.4 160.2,194.8 162.4,195.3 163.9,194.1 165.4,195.6 167.5,193.5 171.2,193.4 174.8,192.4 175.6,193.8 178.5,191.6 181.4,190.2 183.6,189.1 186.5,182.9 188.7,186.5 191.6,191.6 194.6,187.2 197.5,192.4 200.4,184.3 203.3,191.6 204.8,187.7 208.0,193.1 208.8,193.1 210.2,193.1 212.4,188.7 214.6,189.7 216.8,188.7 218.3,192.4 219.7,187.7 221.9,194.5 224.1,193.1 227.0,189.1 228.5,196.4 229.9,194.5 231.4,197.5 232.9,189.7 235.1,188.7 238.0,186.8 240.2,192.4 243.1,189.7 245.3,192.1 248.9,196.0 251.1,189.4 253.3,191.6 256.2,185.8 258.4,190.9 261.3,182.1 263.5,186.5 265.7,181.4 267.9,179.9 271.6,171.9 274.5,170.4 278.9,169.7 281.1,171.9 283.3,171.2 286.2,174.1 289.1,169.3 292.7,175.6 296.4,173.7 298.6,174.1 300.8,178.9 303.7,174.1 307.4,179.2 310.3,178.8 313.9,176.3 315.4,180.7 317.6,178.5 320.5,181.0 322.7,182.9 325.6,174.1 328.5,175.6 330.7,178.5 333.6,179.9 335.8,181.4 338.0,178.5 341.7,178.9 343.9,176.0 346.1,178.5 350.0,180.4 353.1,180.7 355.3,176.0 356.8,180.4 360.4,181.0 362.6,181.4 364.1,183.6 366.3,181.4 368.5,181.0 369.9,183.6 372.1,180.4 373.6,181.4 375.1,188.0 376.5,192.6 379.4,189.4 383.1,192.1 385.3,189.4 388.9,190.9 391.1,194.1 393.3,191.6 395.5,192.6 397.7,196.7 399.9,200.0 401.3,197.5 405.7,198.2 410.1,199.7 415.2,201.4 418.1,200.4 421.8,200.8 424.7,201.9 426.9,199.7 429.8,200.0 432.0,202.3 434.2,200.4 437.9,200.8 442.2,201.4 445.2,204.8 449.5,210.6 451.7,211.3 456.8,211.6 461.2,212.1 463.4,215.0 465.6,214.3 467.8,212.1 471.5,212.8 477.3,213.1 480.2,213.5 482.4,210.2 485.3,209.2" fill="none" stroke="#0000ff" stroke-width="1.0" stroke-linejoin="round"/>
<polyline points="568.2,201.3 570.7,210.2 572.3,219.9 573.9,211.8 575.5,219.9 577.1,219.9 579.6,215.0 584.4,215.3 586.8,219.9 590.9,206.1 592.5,210.2 594.1,205.3 596.5,215.0 599.8,215.3 607.1,215.3 608.7,211.8 611.1,223.9 613.5,213.4 616.8,219.9 619.2,211.8 621.6,210.2 624.0,218.2 626.5,219.5 629.7,206.9 632.1,192.4 634.5,177.0 636.2,192.4 637.8,192.4 639.4,178.6 641.8,178.6 645.1,187.5 646.7,183.0 649.1,185.6 650.7,183.0 653.1,194.0 655.6,206.1 658.0,197.2 659.6,191.6 662.0,194.0 664.5,192.4 666.9,211.8 669.3,200.4 672.6,206.9 676.6,205.3 678.2,210.2 680.6,205.3 682.3,208.5 684.7,201.3 687.1,206.9 688.7,223.1 691.2,216.6 693.6,224.7 695.2,219.9 697.6,224.7 699.2,219.0 701.7,224.7 705.7,224.7 707.3,216.6 709.7,224.7 713.0,215.3 714.9,215.3 717.3,212.6 719.7,210.2 721.3,211.8 722.9,213.4 725.4,216.6 727.0,219.9 729.4,215.0 731.0,219.9 733.5,215.0 735.9,206.9 737.5,215.0 739.9,210.2 742.3,215.0 744.8,206.1 747.2,205.3 748.8,200.4 750.4,210.2 752.9,191.6 754.5,196.4 756.1,210.2 757.7,210.2 759.3,192.4 760.9,211.8 762.6,198.0 765.0,203.7 766.6,214.2 768.2,197.2 770.6,192.4 773.1,189.1 774.7,191.6 776.3,185.9 778.7,182.7 781.2,187.5 783.6,173.0 786.0,179.4 789.2,182.7 791.7,186.7 794.1,198.8 795.7,181.0 798.1,187.5 799.8,184.3 802.2,184.3 803.8,187.5 805.4,184.3 807.0,190.7 807.8,181.0 809.5,199.6 811.1,189.1 811.9,202.9 814.3,190.7 815.9,196.4 817.6,187.5 819.2,181.8 821.6,189.1 824.8,195.6 827.3,197.2 829.7,211.8 831.3,197.2 833.7,196.9 835.3,187.5 837.8,205.3 839.4,206.1 841.0,183.5 842.6,205.3 845.0,187.5 847.1,197.2 849.1,196.4 851.5,187.5 854.4,207.7 856.4,187.5 858.0,182.7 859.9,200.4 861.5,201.3 863.1,191.6 864.7,202.1 866.3,195.6 868.7,192.4 870.4,194.0 872.8,202.1 874.1,185.9 876.0,205.3 878.5,189.1 880.9,219.0 883.3,191.6 885.4,214.2 887.3,184.3 889.8,141.4 892.2,160.0 894.6,164.1 897.9,158.4 901.9,151.1 905.1,150.3 906.8,146.3 909.2,139.8 911.6,160.0 914.0,160.0 915.6,155.2 917.3,159.2 918.9,150.3 921.3,146.3 922.9,150.3 926.2,137.4 929.4,151.1 932.6,151.1 934.2,160.0 937.5,160.0 939.1,137.4 941.5,157.6 943.1,151.1 945.6,164.1 948.0,153.5 950.4,151.1 952.0,133.3 953.7,156.8 955.3,146.3 959.3,137.4 963.4,155.2 965.8,150.3 968.2,146.3 969.8,155.2 972.3,155.2 973.9,153.5 977.9,166.5 979.5,160.0 981.2,178.6 983.3,168.1 985.7,179.4 987.6,195.6 990.0,198.0 992.5,219.0" fill="none" stroke="#ff0000" stroke-width="1.0" stroke-linejoin="round"/>
<polyline points="568.2,192.4 569.9,192.7 571.8,208.5 573.9,199.6 575.5,213.4 577.1,210.2 578.7,215.0 580.4,205.3 582.0,208.5 583.6,205.6 585.2,206.9 586.8,210.2 589.3,200.4 591.7,186.7 593.3,198.8 594.9,187.5 596.5,205.3 598.2,195.6 599.8,206.9 602.2,210.2 604.6,206.9 607.9,200.4 609.5,210.2 611.1,219.9 613.5,202.1 615.1,201.7 616.8,210.2 619.2,206.1 621.6,206.9 624.0,200.4 625.6,210.2 628.1,210.2 629.7,174.6 631.3,173.0 632.9,155.2 634.5,149.5 636.2,177.8 637.8,166.5 640.2,155.2 641.8,160.0 643.4,155.2 645.1,160.0 646.7,155.2 648.3,160.0 651.5,160.8 654.0,179.4 655.6,178.6 657.2,182.7 658.8,177.8 660.4,183.5 662.0,177.0 664.5,189.1 666.1,197.2 668.5,176.2 671.7,197.2 673.4,192.0 679.0,192.0 680.6,201.3 682.3,201.3 683.9,192.4 685.5,195.6 686.6,185.1 687.9,209.3 689.5,211.0 692.0,221.5 692.8,224.7 695.2,215.0 702.5,215.0 704.1,219.9 705.7,210.2 708.1,211.0 709.7,215.0 713.0,205.3 714.9,208.5 716.5,203.7 718.9,195.6 720.5,191.6 722.1,197.2 723.7,204.5 725.4,200.4 727.0,205.3 729.1,195.6 731.0,206.9 732.6,210.2 734.3,202.9 736.7,189.9 737.8,205.3 739.4,181.8 740.7,187.2 751.2,187.2 752.9,168.1 754.5,174.6 756.1,200.4 757.7,177.8 759.3,182.7 761.8,177.0 764.2,173.8 765.8,184.3 767.4,167.3 769.0,178.6 770.6,170.5 772.3,173.0 773.9,163.2 775.5,160.0 777.1,156.0 779.5,149.5 781.2,168.1 782.8,154.4 785.2,146.3 787.6,154.4 790.1,156.8 792.2,160.0 794.1,164.1 799.8,164.1 801.4,146.3 803.8,157.6 805.4,169.7 807.0,152.7 808.7,167.3 810.3,161.6 811.9,181.0 814.3,160.0 817.6,169.7 820.0,160.3 822.4,164.9 824.0,173.0 826.4,158.4 828.9,186.7 831.3,170.5 832.9,172.6 835.3,159.2 837.0,168.9 839.4,168.9 841.0,158.4 842.6,173.0 845.0,156.0 847.1,177.8 849.1,158.4 851.5,164.9 853.1,177.8 855.6,163.2 857.5,154.4 859.9,177.8 861.5,164.1 863.9,171.3 866.3,179.4 867.9,158.4 869.6,168.9 873.6,169.4 875.2,173.8 876.8,173.0 878.5,163.2 880.9,183.5 884.1,137.4 885.7,200.4 887.3,137.4 889.8,109.9 891.4,137.4 893.0,123.6 894.6,122.8 896.2,105.0 897.9,122.8 899.5,112.3 901.1,129.3 902.7,118.8 905.1,118.8 909.2,105.0 912.4,129.3 915.6,108.3 917.3,123.6 919.7,105.0 921.3,105.0 922.9,108.3 925.4,86.4 927.8,96.9 930.2,118.0 931.8,101.0 934.2,113.1 935.9,134.1 938.3,87.2 939.9,118.0 943.1,109.9 944.8,105.0 946.4,129.3 948.8,91.3 950.4,118.0 952.0,96.1 953.7,113.9 956.1,113.9 959.3,90.5 962.6,100.2 964.2,109.9 965.8,95.3 969.0,131.7 971.4,101.0 973.1,122.0 974.4,105.0 975.5,132.5 977.1,127.7 979.5,137.4 981.2,155.2 982.8,131.7 984.4,137.4 986.8,168.1 989.2,179.4 992.1,191.6" fill="none" stroke="#0000ff" stroke-width="1.0" stroke-linejoin="round"/>
<polyline points="61.2,387.4 63.8,386.0 65.3,383.9 66.8,384.9 67.5,383.5 68.2,384.9 69.7,381.3 72.6,376.6 74.8,375.4 77.7,379.5 79.9,378.4 81.4,376.9 82.5,372.5 84.3,375.2 85.8,376.9 86.5,374.0 88.7,377.6 91.6,378.7 94.5,381.3 97.4,379.1 99.6,378.4 101.1,379.5 102.5,379.1 104.4,375.4 106.9,379.5 109.1,377.6 111.3,375.4 113.5,378.1 116.4,378.4 117.9,381.0 119.3,379.8 122.3,382.8 123.7,387.1 125.9,393.7 128.1,394.4 131.8,396.2 144.9,396.2 148.6,394.1 151.5,388.3 154.4,384.2 157.3,381.0 160.2,383.0 161.7,384.9 163.2,384.2 164.6,385.4 167.5,378.4 170.5,378.1 171.9,376.9 174.1,379.1 175.6,379.8 177.0,383.5 180.0,382.8 182.1,383.5 183.6,379.8 185.1,381.3 187.3,379.8 189.5,385.7 191.6,389.3 194.6,386.4 197.5,392.2 200.4,386.4 203.3,393.0 204.8,390.8 208.0,395.9 208.8,395.9 211.7,393.7 213.9,393.7 215.3,394.1 216.8,393.3 217.8,395.9 219.7,393.3 221.9,398.5 225.6,398.5 227.0,397.6 228.5,401.4 229.9,400.3 231.4,401.4 232.9,397.6 235.1,398.1 237.2,397.4 239.4,400.0 241.6,399.5 243.1,398.8 245.3,401.0 248.2,402.5 250.4,400.3 252.6,401.0 254.8,398.8 256.2,398.5 257.7,401.7 260.6,397.6 262.8,400.3 264.3,398.8 267.2,396.6 270.1,392.7 273.8,389.3 276.7,390.3 280.3,390.3 281.8,391.5 284.0,390.1 286.2,393.7 287.6,393.3 289.1,390.3 291.3,393.3 293.5,396.3 295.7,394.4 297.9,393.7 300.8,397.6 303.7,394.7 306.6,398.5 310.3,398.5 312.5,397.6 315.4,400.6 317.6,399.5 319.8,400.6 322.0,398.8 323.4,401.4 325.6,398.1 328.5,398.8 331.5,400.6 335.1,401.7 338.0,400.3 341.7,400.0 343.9,398.8 346.1,400.6 350.0,401.4 353.9,401.4 355.3,398.5 356.8,401.4 362.6,401.7 364.1,402.9 366.3,401.4 368.5,401.4 369.9,402.9 371.4,401.4 373.6,401.7 375.8,406.9 378.0,406.1 380.2,405.4 383.8,405.4 385.3,404.4 388.9,404.4 390.4,405.8 392.6,404.4 395.5,404.4 397.7,405.8 399.2,406.9 401.3,405.4 414.5,405.4 415.9,404.4 424.7,404.4 426.9,402.5 429.8,402.5 432.0,404.4 434.2,402.5 442.2,402.5 444.4,404.4 448.1,405.8 451.0,407.3 461.2,407.3 463.4,408.7 465.6,408.7 467.8,406.9 480.2,406.9 482.4,405.4 485.3,404.4" fill="none" stroke="#ff0000" stroke-width="1.0" stroke-linejoin="round"/>
<rect x="686.4" y="295.65" width="17.3" height="3.6" fill="#ff0000"/>
<rect x="579.9" y="304.26" width="3.0" height="3.6" fill="#ff0000"/>
<rect x="630.2" y="304.26" width="23.6" height="3.6" fill="#ff0000"/>
<rect x="571.1" y="312.86" width="3.0" height="3.6" fill="#ff0000"/>
<rect x="578.5" y="312.86" width="3.0" height="3.6" fill="#ff0000"/>
<rect x="587.3" y="312.86" width="8.8" height="3.6" fill="#ff0000"/>
<rect x="616.7" y="312.86" width="3.1" height="3.6" fill="#ff0000"/>
<rect x="652.2" y="312.86" width="4.5" height="3.6" fill="#ff0000"/>
<rect x="671.5" y="312.86" width="7.4" height="3.6" fill="#ff0000"/>
<rect x="575.2" y="321.46" width="5.0" height="3.6" fill="#ff0000"/>
<rect x="581.0" y="321.46" width="7.9" height="3.6" fill="#ff0000"/>
<rect x="594.4" y="321.46" width="13.9" height="3.6" fill="#ff0000"/>
<rect x="628.3" y="321.46" width="3.6" height="3.6" fill="#ff0000"/>
<rect x="566.3" y="330.07" width="10.7" height="3.6" fill="#ff0000"/>
<rect x="582.8" y="330.07" width="3.3" height="3.6" fill="#ff0000"/>
<rect x="598.9" y="330.07" width="3.3" height="3.6" fill="#ff0000"/>
<rect x="607.9" y="330.07" width="22.3" height="3.6" fill="#ff0000"/>
<rect x="655.0" y="330.07" width="3.6" height="3.6" fill="#ff0000"/>
<rect x="665.2" y="330.07" width="7.9" height="3.6" fill="#ff0000"/>
<rect x="677.3" y="330.07" width="6.3" height="3.6" fill="#ff0000"/>
<rect x="567.8" y="338.67" width="3.3" height="3.6" fill="#ff0000"/>
<rect x="606.0" y="338.67" width="4.0" height="3.6" fill="#ff0000"/>
<rect x="611.9" y="338.67" width="3.8" height="3.6" fill="#ff0000"/>
<rect x="656.3" y="338.67" width="10.7" height="3.6" fill="#ff0000"/>
<rect x="668.2" y="338.67" width="3.8" height="3.6" fill="#ff0000"/>
<rect x="681.8" y="338.67" width="6.3" height="3.6" fill="#ff0000"/>
<rect x="702.4" y="338.67" width="4.6" height="3.6" fill="#ff0000"/>
<rect x="683.1" y="347.27" width="3.6" height="3.6" fill="#ff0000"/>
<rect x="705.0" y="355.88" width="7.9" height="3.6" fill="#ff0000"/>
<rect x="710.8" y="364.48" width="4.1" height="3.6" fill="#ff0000"/>
<rect x="715.7" y="347.27" width="3.3" height="3.6" fill="#ff0000"/>
<rect x="723.2" y="347.27" width="4.6" height="3.6" fill="#ff0000"/>
<rect x="757.2" y="347.27" width="4.8" height="3.6" fill="#ff0000"/>
<rect x="719.9" y="355.88" width="5.0" height="3.6" fill="#ff0000"/>
<rect x="726.1" y="355.88" width="3.0" height="3.6" fill="#ff0000"/>
<rect x="734.7" y="355.88" width="5.0" height="3.6" fill="#ff0000"/>
<rect x="755.0" y="355.88" width="4.0" height="3.6" fill="#ff0000"/>
<rect x="852.8" y="355.88" width="2.5" height="3.6" fill="#ff0000"/>
<rect x="715.2" y="364.48" width="2.5" height="3.6" fill="#ff0000"/>
<rect x="851.2" y="364.48" width="3.8" height="3.6" fill="#ff0000"/>
<rect x="717.1" y="373.08" width="4.8" height="3.6" fill="#ff0000"/>
<rect x="733.1" y="373.08" width="3.6" height="3.6" fill="#ff0000"/>
<rect x="771.6" y="373.08" width="3.3" height="3.6" fill="#ff0000"/>
<rect x="802.8" y="373.08" width="9.2" height="3.6" fill="#ff0000"/>
<rect x="840.8" y="373.08" width="3.8" height="3.6" fill="#ff0000"/>
<rect x="849.8" y="373.08" width="3.3" height="3.6" fill="#ff0000"/>
<rect x="738.9" y="381.68" width="6.6" height="3.6" fill="#ff0000"/>
<rect x="749.6" y="381.68" width="3.3" height="3.6" fill="#ff0000"/>
<rect x="761.2" y="381.68" width="6.6" height="3.6" fill="#ff0000"/>
<rect x="797.0" y="381.68" width="7.6" height="3.6" fill="#ff0000"/>
<rect x="807.1" y="381.68" width="3.3" height="3.6" fill="#ff0000"/>
<rect x="812.0" y="381.68" width="4.0" height="3.6" fill="#ff0000"/>
<rect x="820.3" y="381.68" width="4.8" height="3.6" fill="#ff0000"/>
<rect x="829.2" y="381.68" width="6.6" height="3.6" fill="#ff0000"/>
<rect x="837.9" y="381.68" width="3.8" height="3.6" fill="#ff0000"/>
<rect x="845.0" y="381.68" width="6.6" height="3.6" fill="#ff0000"/>
<rect x="727.3" y="390.29" width="4.6" height="3.6" fill="#ff0000"/>
<rect x="737.5" y="390.29" width="3.3" height="3.6" fill="#ff0000"/>
<rect x="746.6" y="390.29" width="9.1" height="3.6" fill="#ff0000"/>
<rect x="760.0" y="390.29" width="3.1" height="3.6" fill="#ff0000"/>
<rect x="765.8" y="390.29" width="32.5" height="3.6" fill="#ff0000"/>
<rect x="799.6" y="390.29" width="3.3" height="3.6" fill="#ff0000"/>
<rect x="810.0" y="390.29" width="3.5" height="3.6" fill="#ff0000"/>
<rect x="816.0" y="390.29" width="6.3" height="3.6" fill="#ff0000"/>
<rect x="835.0" y="390.29" width="7.9" height="3.6" fill="#ff0000"/>
<rect x="844.1" y="390.29" width="5.9" height="3.6" fill="#ff0000"/>
<rect x="853.6" y="390.29" width="2.5" height="3.6" fill="#ff0000"/>
<rect x="740.8" y="398.89" width="7.9" height="3.6" fill="#ff0000"/>
<rect x="804.1" y="398.89" width="3.6" height="3.6" fill="#ff0000"/>
<rect x="814.3" y="398.89" width="6.6" height="3.6" fill="#ff0000"/>
<rect x="823.4" y="398.89" width="5.0" height="3.6" fill="#ff0000"/>
<rect x="833.5" y="398.89" width="3.3" height="3.6" fill="#ff0000"/>
<rect x="842.6" y="398.89" width="3.3" height="3.6" fill="#ff0000"/>
<rect x="730.1" y="407.49" width="5.1" height="3.6" fill="#ff0000"/>
<rect x="753.7" y="407.49" width="3.6" height="3.6" fill="#ff0000"/>
<rect x="778.8" y="407.49" width="3.8" height="3.6" fill="#ff0000"/>
<rect x="788.9" y="407.49" width="4.0" height="3.6" fill="#ff0000"/>
<rect x="826.1" y="416.10" width="5.0" height="3.6" fill="#ff0000"/>
<rect x="888.3" y="295.65" width="3.5" height="3.6" fill="#ff0000"/>
<rect x="897.4" y="295.65" width="7.1" height="3.6" fill="#ff0000"/>
<rect x="909.1" y="295.65" width="2.8" height="3.6" fill="#ff0000"/>
<rect x="913.5" y="295.65" width="7.4" height="3.6" fill="#ff0000"/>
<rect x="922.3" y="295.65" width="3.3" height="3.6" fill="#ff0000"/>
<rect x="937.2" y="295.65" width="5.8" height="3.6" fill="#ff0000"/>
<rect x="971.0" y="295.65" width="2.8" height="3.6" fill="#ff0000"/>
<rect x="975.5" y="295.65" width="6.6" height="3.6" fill="#ff0000"/>
<rect x="983.4" y="295.65" width="2.5" height="3.6" fill="#ff0000"/>
<rect x="987.4" y="295.65" width="4.3" height="3.6" fill="#ff0000"/>
<rect x="890.1" y="304.26" width="8.6" height="3.6" fill="#ff0000"/>
<rect x="903.1" y="304.26" width="11.7" height="3.6" fill="#ff0000"/>
<rect x="919.3" y="304.26" width="19.3" height="3.6" fill="#ff0000"/>
<rect x="941.3" y="304.26" width="47.1" height="3.6" fill="#ff0000"/>
<rect x="887.1" y="312.86" width="2.8" height="3.6" fill="#ff0000"/>
<rect x="990.0" y="312.86" width="3.3" height="3.6" fill="#ff0000"/>
<rect x="852.9" y="355.88" width="3.1" height="3.6" fill="#ff0000"/>
<rect x="851.3" y="364.48" width="3.6" height="3.6" fill="#ff0000"/>
<rect x="850.0" y="373.08" width="3.0" height="3.6" fill="#ff0000"/>
<rect x="859.0" y="373.08" width="2.8" height="3.6" fill="#ff0000"/>
<rect x="868.9" y="373.08" width="3.3" height="3.6" fill="#ff0000"/>
<rect x="873.9" y="373.08" width="2.8" height="3.6" fill="#ff0000"/>
<rect x="857.4" y="381.68" width="7.4" height="3.6" fill="#ff0000"/>
<rect x="867.8" y="381.68" width="2.8" height="3.6" fill="#ff0000"/>
<rect x="872.2" y="381.68" width="8.8" height="3.6" fill="#ff0000"/>
<rect x="855.1" y="390.29" width="4.0" height="3.6" fill="#ff0000"/>
<rect x="866.1" y="390.29" width="3.3" height="3.6" fill="#ff0000"/>
<rect x="876.4" y="390.29" width="3.3" height="3.6" fill="#ff0000"/>
<rect x="862.8" y="398.89" width="5.0" height="3.6" fill="#ff0000"/>
<rect x="870.6" y="398.89" width="3.3" height="3.6" fill="#ff0000"/>
<rect x="879.4" y="398.89" width="3.3" height="3.6" fill="#ff0000"/>
<rect x="882.2" y="407.49" width="3.6" height="3.6" fill="#ff0000"/>
<rect x="884.1" y="416.10" width="3.0" height="3.6" fill="#ff0000"/>
<rect x="881.0" y="424.70" width="2.8" height="3.6" fill="#ff0000"/>
<rect x="885.5" y="424.70" width="3.3" height="3.6" fill="#ff0000"/>
<polyline points="61.5,628.3 140.0,628.3 163.1,628.3 167.2,627.5 174.6,626.4 179.8,620.2 186.1,612.1 189.8,609.7 191.9,605.5 194.5,599.7 198.7,595.0 202.9,589.8 206.5,584.5 208.1,586.6 209.7,588.7 211.3,586.1 213.3,581.7 217.5,580.3 220.7,580.3 223.8,577.7 227.0,573.0 231.2,566.7 234.8,568.3 235.9,565.1 238.0,554.7 239.5,547.9 242.9,543.4 246.8,540.3 253.1,536.3 260.9,530.9 270.2,525.9 279.6,522.8 288.9,520.4 298.3,520.4 307.7,522.3 315.5,525.4 323.3,529.3 332.6,534.8 340.4,540.7 350.0,548.1 353.6,552.1 357.8,554.7 360.4,558.3 361.5,560.4 367.2,565.7 372.5,573.0 379.8,580.3 385.1,586.1 389.2,592.4 395.5,599.7 400.8,607.1 407.1,617.0 414.9,626.4 421.7,627.2 428.0,628.3 440.0,628.3 486.5,628.3" fill="none" stroke="#ff0000" stroke-width="1.0" stroke-linejoin="round"/>
<polyline points="568.2,587.0 569.7,591.4 583.3,591.4 584.3,586.7 585.4,590.4 586.9,591.4 588.7,596.2 590.6,591.4 593.5,591.4 594.9,596.2 597.9,596.2 599.3,591.1 601.2,596.2 609.5,596.2 611.0,591.4 612.5,596.2 613.9,591.4 616.9,591.4 618.3,596.2 624.2,596.2 627.1,582.4 629.3,581.6 630.7,577.7 637.3,577.7 638.8,573.6 640.2,572.9 641.7,568.5 643.9,573.6 645.3,568.5 651.9,568.5 653.8,564.1 654.8,564.1 657.0,559.0 658.5,554.6 659.4,559.3 662.5,550.4 664.1,550.4 665.7,555.1 667.8,550.4 669.3,549.3 670.4,545.7 672.0,550.4 676.2,550.4 678.2,545.7 679.3,545.2 681.9,536.2 683.5,536.2 684.5,532.1 686.1,537.3 689.2,527.3 691.3,532.6 692.4,532.1 695.0,523.2 705.0,523.2 706.5,518.4 709.2,518.4 711.3,513.7 713.3,512.7 715.4,499.6 717.5,504.3 719.1,504.3 720.7,500.1 722.3,500.1 723.8,504.8 724.9,499.6 727.0,504.3 728.0,503.8 729.1,499.6 731.7,509.0 733.3,504.3 734.8,509.0 736.4,509.0 738.0,504.3 740.0,509.5 740.3,504.3 744.0,504.3 745.5,500.1 747.1,500.6 748.2,504.3 749.7,504.8 751.3,513.7 752.9,517.9 756.0,523.7 758.6,517.9 760.2,523.2 763.3,523.2 764.9,518.2 766.5,518.4 768.1,522.6 770.7,527.9 772.8,523.2 774.4,524.7 777.0,532.6 778.5,531.0 779.6,526.8 780.6,536.2 782.2,532.1 783.8,536.2 785.9,536.2 786.9,532.1 788.5,536.2 790.0,532.1 790.5,532.3 792.2,536.4 793.9,541.4 798.6,541.4 801.5,550.3 803.2,549.7 804.4,545.1 805.6,554.4 807.9,557.3 810.2,560.2 812.5,564.3 814.9,568.3 817.2,568.9 820.1,573.6 821.8,577.6 824.7,577.6 826.5,573.2 828.8,581.1 831.1,587.5 833.4,582.3 836.9,582.3 838.7,586.9 841.0,586.9 842.7,596.2 844.5,596.2 845.6,591.0 847.4,595.6 849.7,598.5 852.0,603.8 854.4,606.1 856.7,610.2 859.0,605.5 860.7,606.1 863.6,615.4 865.4,609.6 866.5,610.2 867.7,614.8 869.5,609.6 871.2,614.2 875.8,614.2 877.0,619.5 878.2,615.4 880.0,614.2 880.7,614.2 884.0,614.2 886.5,619.1 889.0,623.7 890.6,622.4 892.3,619.1 894.8,614.5 897.2,614.5 898.9,619.1 900.6,609.5 904.7,609.5 906.3,600.1 908.0,605.1 910.5,605.1 912.1,596.8 915.4,591.9 917.1,596.0 919.5,586.9 921.2,591.0 923.7,582.5 931.1,582.5 932.8,573.2 935.2,568.7 936.9,572.9 940.2,563.8 941.8,574.5 943.5,564.6 946.0,561.3 947.6,554.7 950.9,564.6 952.6,555.0 955.1,550.6 956.7,550.6 958.4,554.7 961.7,545.6 964.1,550.6 966.6,541.2 969.1,545.6 970.7,544.8 973.2,536.5 975.7,536.2 979.8,523.3 982.3,520.9 984.4,508.5 985.6,513.4 987.3,509.3 988.9,514.2 991.9,504.3" fill="none" stroke="#ff0000" stroke-width="1.0" stroke-linejoin="round"/>
<polyline points="61.5,830.3 181.4,830.4 183.7,824.0 188.5,820.9 194.0,816.1 198.8,812.2 203.5,807.7 209.1,802.7 214.6,797.1 220.2,790.0 224.1,785.2 226.5,780.5 230.4,775.7 237.6,765.4 243.9,756.7 251.8,745.7 254.2,740.9 260.1,733.0 265.8,728.2 272.2,722.7 275.3,720.3 281.7,716.4 288.0,712.4 294.3,711.3 302.2,711.3 308.6,712.7 316.5,718.0 323.6,723.2 327.6,728.2 332.3,733.0 336.3,737.7 340.2,743.3 344.2,749.6 350.1,757.5 351.1,759.9 355.8,767.0 359.0,770.2 361.4,778.1 364.5,786.8 369.3,790.0 371.7,793.2 374.8,799.5 379.6,802.3 385.1,808.2 389.9,811.8 395.4,817.2 398.6,817.7 403.3,820.9 408.1,824.5 411.2,830.4 486.5,830.3" fill="none" stroke="#ff0000" stroke-width="1.0" stroke-linejoin="round"/>
<polyline points="568.5,830.4 993.5,830.4" fill="none" stroke="#d41515" stroke-width="1.0" stroke-linejoin="round"/>
</svg></body></html>
